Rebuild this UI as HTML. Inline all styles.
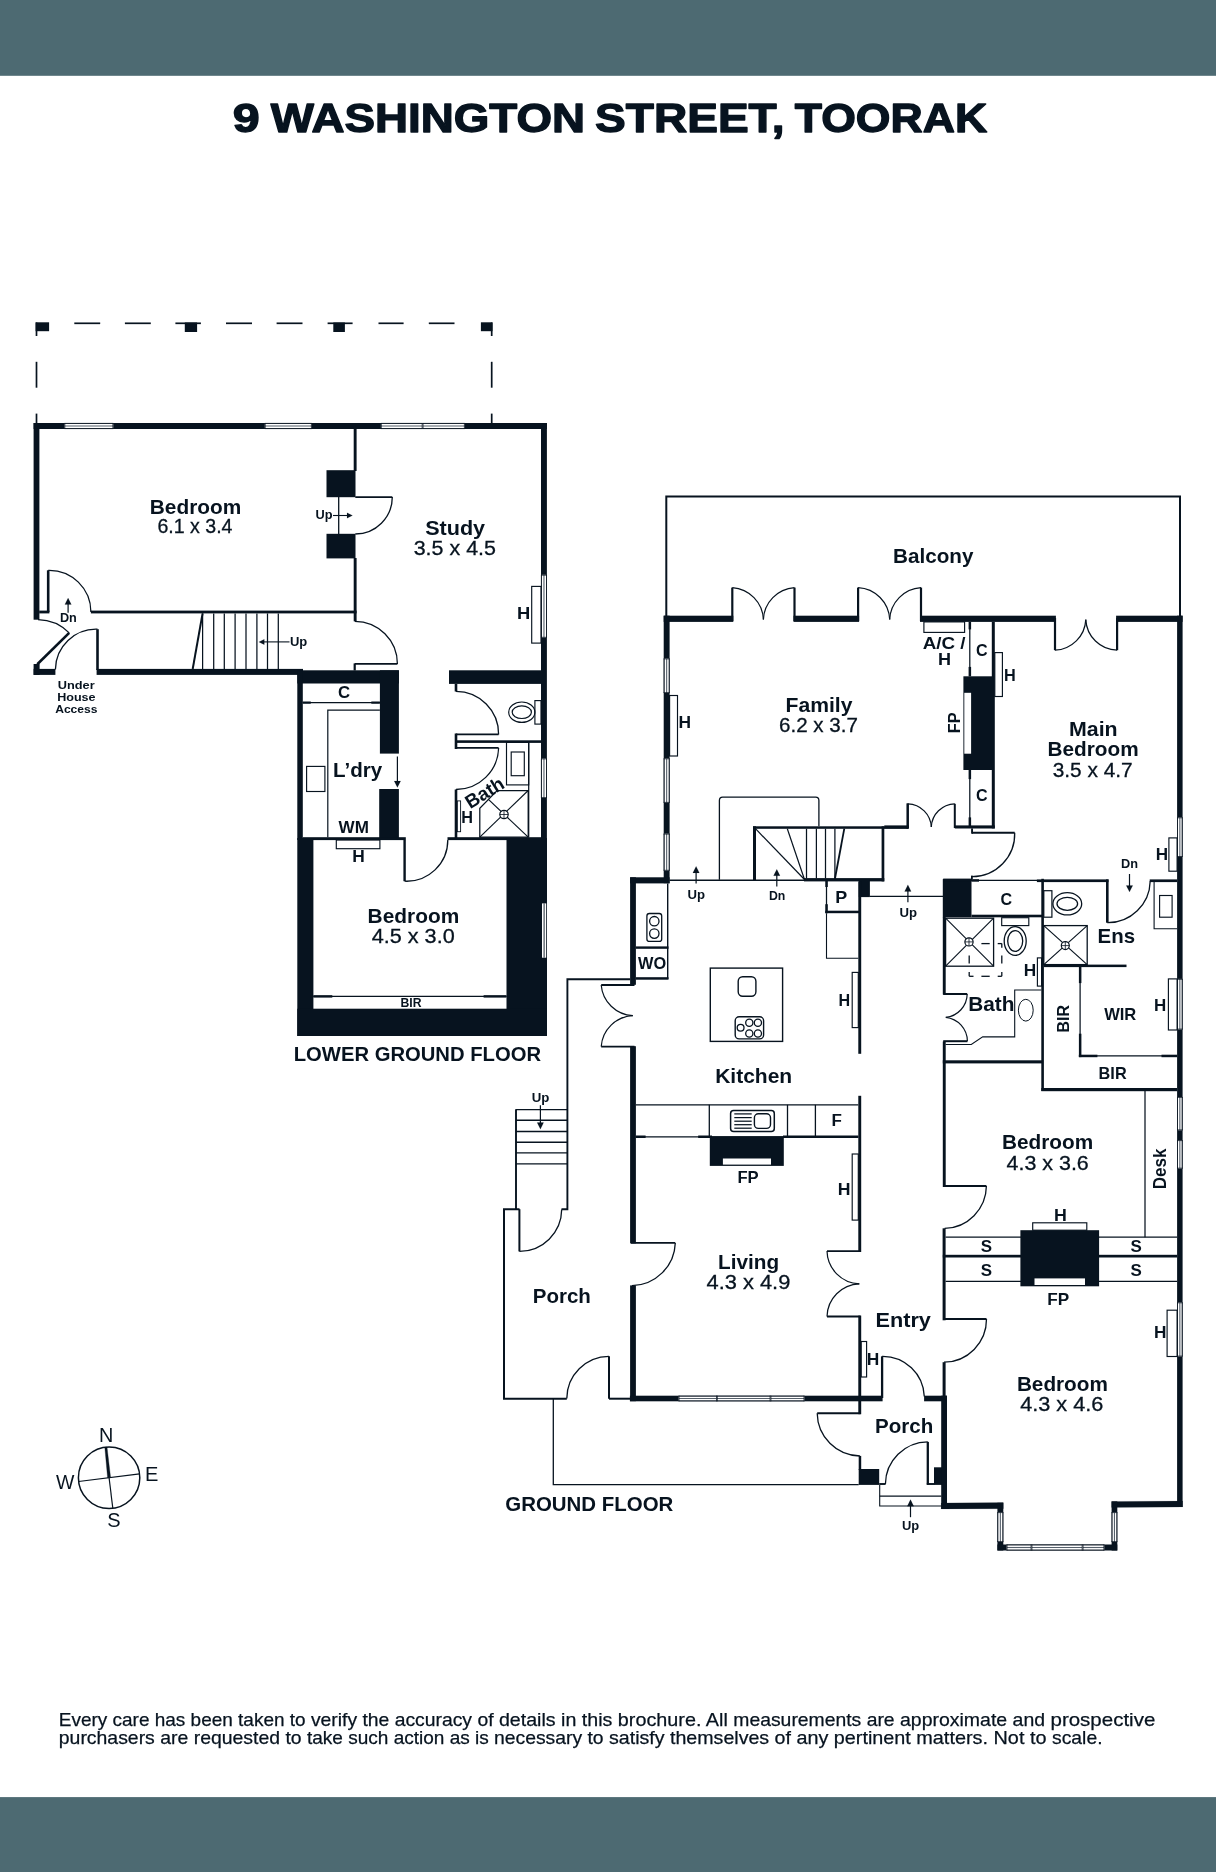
<!DOCTYPE html>
<html><head><meta charset="utf-8"><title>9 Washington Street, Toorak</title>
<style>
html,body{margin:0;padding:0;background:#fff;}
body{width:1216px;height:1872px;overflow:hidden;font-family:"Liberation Sans",sans-serif;}
svg{display:block;will-change:transform;}
svg text{font-family:"Liberation Sans",sans-serif;fill:#07131f;}
</style></head><body>
<svg width="1216" height="1872" viewBox="0 0 1216 1872">
<rect x="0" y="0" width="1216" height="75.8" fill="#4d6a72" />
<rect x="0" y="1797.1" width="1216" height="74.9" fill="#4d6a72" />
<text x="232.85" y="131.95" font-size="41.16" font-weight="bold" textLength="26.99" lengthAdjust="spacingAndGlyphs" stroke="#07131f" stroke-width="1.3" stroke-linejoin="round">9</text>
<text x="270.78" y="131.95" font-size="41.16" font-weight="bold" textLength="314.25" lengthAdjust="spacingAndGlyphs" stroke="#07131f" stroke-width="1.3" stroke-linejoin="round">WASHINGTON</text>
<text x="595.07" y="131.95" font-size="41.16" font-weight="bold" textLength="189.37" lengthAdjust="spacingAndGlyphs" stroke="#07131f" stroke-width="1.3" stroke-linejoin="round">STREET,</text>
<text x="794.78" y="131.95" font-size="41.16" font-weight="bold" textLength="192.35" lengthAdjust="spacingAndGlyphs" stroke="#07131f" stroke-width="1.3" stroke-linejoin="round">TOORAK</text>
<text xml:space="preserve" x="58.8" y="1725.8" font-size="18.84" textLength="252.1" lengthAdjust="spacingAndGlyphs" stroke="#07131f" stroke-width="0.25">Every care has been taken to </text>
<text xml:space="preserve" x="310.9" y="1725.8" font-size="18.84" textLength="188" lengthAdjust="spacingAndGlyphs" stroke="#07131f" stroke-width="0.25">verify the accuracy of </text>
<text xml:space="preserve" x="498.9" y="1725.8" font-size="18.84" textLength="118.9" lengthAdjust="spacingAndGlyphs" stroke="#07131f" stroke-width="0.25">details in this </text>
<text xml:space="preserve" x="617.8" y="1725.8" font-size="18.84" textLength="115.5" lengthAdjust="spacingAndGlyphs" stroke="#07131f" stroke-width="0.25">brochure. All </text>
<text xml:space="preserve" x="733.3" y="1725.8" font-size="18.84" textLength="166.7" lengthAdjust="spacingAndGlyphs" stroke="#07131f" stroke-width="0.25">measurements are </text>
<text xml:space="preserve" x="900" y="1725.8" font-size="18.84" textLength="150.5" lengthAdjust="spacingAndGlyphs" stroke="#07131f" stroke-width="0.25">approximate and </text>
<text xml:space="preserve" x="1050.5" y="1725.8" font-size="18.84" textLength="104.8" lengthAdjust="spacingAndGlyphs" stroke="#07131f" stroke-width="0.25">prospective</text>
<text xml:space="preserve" x="58.8" y="1744.3" font-size="18.84" textLength="248.2" lengthAdjust="spacingAndGlyphs" stroke="#07131f" stroke-width="0.25">purchasers are requested to </text>
<text xml:space="preserve" x="307" y="1744.3" font-size="18.84" textLength="187" lengthAdjust="spacingAndGlyphs" stroke="#07131f" stroke-width="0.25">take such action as is </text>
<text xml:space="preserve" x="494" y="1744.3" font-size="18.84" textLength="115" lengthAdjust="spacingAndGlyphs" stroke="#07131f" stroke-width="0.25">necessary to </text>
<text xml:space="preserve" x="609" y="1744.3" font-size="18.84" textLength="187.4" lengthAdjust="spacingAndGlyphs" stroke="#07131f" stroke-width="0.25">satisfy themselves of </text>
<text xml:space="preserve" x="796.4" y="1744.3" font-size="18.84" textLength="119.9" lengthAdjust="spacingAndGlyphs" stroke="#07131f" stroke-width="0.25">any pertinent </text>
<text xml:space="preserve" x="916.3" y="1744.3" font-size="18.84" textLength="135.7" lengthAdjust="spacingAndGlyphs" stroke="#07131f" stroke-width="0.25">matters. Not to </text>
<text xml:space="preserve" x="1052" y="1744.3" font-size="18.84" textLength="50.5" lengthAdjust="spacingAndGlyphs" stroke="#07131f" stroke-width="0.25">scale.</text>
<circle cx="109.1" cy="1477.7" r="30.7" fill="none" stroke="#07131f" stroke-width="1.5"/>
<path d="M107.6 1477.9 L110.6 1477.5 L107 1447 L104.8 1447.3 Z" fill="#07131f" stroke="#07131f" stroke-width="0.3" stroke-linejoin="miter"/>
<line x1="109.1" y1="1477.7" x2="112.8" y2="1508.2" stroke="#07131f" stroke-width="1.2" stroke-linecap="butt"/>
<line x1="78.6" y1="1481.5" x2="139.6" y2="1473.9" stroke="#07131f" stroke-width="1.2" stroke-linecap="butt"/>
<text x="99.04" y="1442.2" font-size="21.01" font-weight="normal" textLength="14.32" lengthAdjust="spacingAndGlyphs" >N</text>
<text x="56.09" y="1489.4" font-size="21.01" font-weight="normal" textLength="18.42" lengthAdjust="spacingAndGlyphs" >W</text>
<text x="145.12" y="1481.1" font-size="21.01" font-weight="normal" textLength="13.36" lengthAdjust="spacingAndGlyphs" >E</text>
<text x="107.17" y="1526.6" font-size="20.58" font-weight="normal" textLength="13.36" lengthAdjust="spacingAndGlyphs" >S</text>
<line x1="74.3" y1="323.3" x2="100.2" y2="323.3" stroke="#07131f" stroke-width="1.7" stroke-linecap="butt"/>
<line x1="124.9" y1="323.3" x2="150.8" y2="323.3" stroke="#07131f" stroke-width="1.7" stroke-linecap="butt"/>
<line x1="175.4" y1="323.3" x2="200.9" y2="323.3" stroke="#07131f" stroke-width="1.7" stroke-linecap="butt"/>
<line x1="226" y1="323.3" x2="252" y2="323.3" stroke="#07131f" stroke-width="1.7" stroke-linecap="butt"/>
<line x1="276.6" y1="323.3" x2="302.5" y2="323.3" stroke="#07131f" stroke-width="1.7" stroke-linecap="butt"/>
<line x1="327.6" y1="323.3" x2="352.6" y2="323.3" stroke="#07131f" stroke-width="1.7" stroke-linecap="butt"/>
<line x1="378.5" y1="323.3" x2="403.6" y2="323.3" stroke="#07131f" stroke-width="1.7" stroke-linecap="butt"/>
<line x1="428.8" y1="323.3" x2="454.5" y2="323.3" stroke="#07131f" stroke-width="1.7" stroke-linecap="butt"/>
<line x1="36.5" y1="322.5" x2="36.5" y2="336" stroke="#07131f" stroke-width="1.7" stroke-linecap="butt"/>
<line x1="36.5" y1="361.8" x2="36.5" y2="387.7" stroke="#07131f" stroke-width="1.7" stroke-linecap="butt"/>
<line x1="36.5" y1="413.6" x2="36.5" y2="423.5" stroke="#07131f" stroke-width="1.7" stroke-linecap="butt"/>
<line x1="491.7" y1="322.5" x2="491.7" y2="336" stroke="#07131f" stroke-width="1.7" stroke-linecap="butt"/>
<line x1="491.7" y1="361.8" x2="491.7" y2="387.7" stroke="#07131f" stroke-width="1.7" stroke-linecap="butt"/>
<line x1="491.7" y1="413.6" x2="491.7" y2="423.5" stroke="#07131f" stroke-width="1.7" stroke-linecap="butt"/>
<rect x="35.6" y="322.3" width="13.5" height="8.9" fill="#07131f" />
<rect x="184.8" y="322.5" width="12.3" height="9.5" fill="#07131f" />
<rect x="333.3" y="322.5" width="11.6" height="9.5" fill="#07131f" />
<rect x="480.9" y="322.3" width="11.6" height="8.9" fill="#07131f" />
<rect x="33.6" y="423" width="513.3" height="6" fill="#07131f" />
<rect x="33.6" y="423" width="5.8" height="196.7" fill="#07131f" />
<rect x="541" y="423" width="5.9" height="417" fill="#07131f" />
<rect x="64.4" y="423.7" width="48.9" height="4.6" fill="#fff" />
<line x1="64.4" y1="426" x2="113.3" y2="426" stroke="#56606b" stroke-width="1.1" stroke-linecap="butt"/>
<line x1="64.4" y1="423.4" x2="113.3" y2="423.4" stroke="#07131f" stroke-width="0.8" stroke-linecap="butt"/>
<line x1="64.4" y1="428.6" x2="113.3" y2="428.6" stroke="#07131f" stroke-width="0.8" stroke-linecap="butt"/>
<line x1="64.8" y1="423" x2="64.8" y2="429" stroke="#07131f" stroke-width="0.8" stroke-linecap="butt"/>
<line x1="112.9" y1="423" x2="112.9" y2="429" stroke="#07131f" stroke-width="0.8" stroke-linecap="butt"/>
<rect x="264.8" y="423.7" width="47" height="4.6" fill="#fff" />
<line x1="264.8" y1="426" x2="311.8" y2="426" stroke="#56606b" stroke-width="1.1" stroke-linecap="butt"/>
<line x1="264.8" y1="423.4" x2="311.8" y2="423.4" stroke="#07131f" stroke-width="0.8" stroke-linecap="butt"/>
<line x1="264.8" y1="428.6" x2="311.8" y2="428.6" stroke="#07131f" stroke-width="0.8" stroke-linecap="butt"/>
<line x1="265.2" y1="423" x2="265.2" y2="429" stroke="#07131f" stroke-width="0.8" stroke-linecap="butt"/>
<line x1="311.4" y1="423" x2="311.4" y2="429" stroke="#07131f" stroke-width="0.8" stroke-linecap="butt"/>
<rect x="380.9" y="423.7" width="41.7" height="4.6" fill="#fff" />
<line x1="380.9" y1="426" x2="422.6" y2="426" stroke="#56606b" stroke-width="1.1" stroke-linecap="butt"/>
<line x1="380.9" y1="423.4" x2="422.6" y2="423.4" stroke="#07131f" stroke-width="0.8" stroke-linecap="butt"/>
<line x1="380.9" y1="428.6" x2="422.6" y2="428.6" stroke="#07131f" stroke-width="0.8" stroke-linecap="butt"/>
<line x1="381.3" y1="423" x2="381.3" y2="429" stroke="#07131f" stroke-width="0.8" stroke-linecap="butt"/>
<line x1="422.2" y1="423" x2="422.2" y2="429" stroke="#07131f" stroke-width="0.8" stroke-linecap="butt"/>
<rect x="422.6" y="423.7" width="42.2" height="4.6" fill="#fff" />
<line x1="422.6" y1="426" x2="464.8" y2="426" stroke="#56606b" stroke-width="1.1" stroke-linecap="butt"/>
<line x1="422.6" y1="423.4" x2="464.8" y2="423.4" stroke="#07131f" stroke-width="0.8" stroke-linecap="butt"/>
<line x1="422.6" y1="428.6" x2="464.8" y2="428.6" stroke="#07131f" stroke-width="0.8" stroke-linecap="butt"/>
<line x1="423" y1="423" x2="423" y2="429" stroke="#07131f" stroke-width="0.8" stroke-linecap="butt"/>
<line x1="464.4" y1="423" x2="464.4" y2="429" stroke="#07131f" stroke-width="0.8" stroke-linecap="butt"/>
<rect x="541.7" y="574.8" width="4.5" height="62.9" fill="#fff" />
<line x1="543.95" y1="574.8" x2="543.95" y2="637.7" stroke="#56606b" stroke-width="1.1" stroke-linecap="butt"/>
<line x1="541.4" y1="574.8" x2="541.4" y2="637.7" stroke="#07131f" stroke-width="0.8" stroke-linecap="butt"/>
<line x1="546.5" y1="574.8" x2="546.5" y2="637.7" stroke="#07131f" stroke-width="0.8" stroke-linecap="butt"/>
<line x1="541" y1="575.2" x2="546.9" y2="575.2" stroke="#07131f" stroke-width="0.8" stroke-linecap="butt"/>
<line x1="541" y1="637.3" x2="546.9" y2="637.3" stroke="#07131f" stroke-width="0.8" stroke-linecap="butt"/>
<rect x="541.7" y="758.5" width="4.5" height="39.5" fill="#fff" />
<line x1="543.95" y1="758.5" x2="543.95" y2="798" stroke="#56606b" stroke-width="1.1" stroke-linecap="butt"/>
<line x1="541.4" y1="758.5" x2="541.4" y2="798" stroke="#07131f" stroke-width="0.8" stroke-linecap="butt"/>
<line x1="546.5" y1="758.5" x2="546.5" y2="798" stroke="#07131f" stroke-width="0.8" stroke-linecap="butt"/>
<line x1="541" y1="758.9" x2="546.9" y2="758.9" stroke="#07131f" stroke-width="0.8" stroke-linecap="butt"/>
<line x1="541" y1="797.6" x2="546.9" y2="797.6" stroke="#07131f" stroke-width="0.8" stroke-linecap="butt"/>
<rect x="39.2" y="610.6" width="10.2" height="2.8" fill="#07131f" />
<rect x="90.9" y="610.6" width="265.7" height="2.8" fill="#07131f" />
<rect x="353.7" y="429" width="2.9" height="42" fill="#07131f" />
<rect x="353.7" y="558" width="2.9" height="63.3" fill="#07131f" />
<rect x="326.5" y="470.2" width="29" height="27" fill="#07131f" />
<rect x="326.5" y="533.8" width="29" height="24.6" fill="#07131f" />
<line x1="338.7" y1="497" x2="338.7" y2="534" stroke="#07131f" stroke-width="1.3" stroke-linecap="butt"/>
<line x1="355.3" y1="497.1" x2="392.3" y2="497.1" stroke="#07131f" stroke-width="1.6" stroke-linecap="butt"/>
<path d="M392.3 497.1 A37 37 0 0 1 355.3 534" fill="none" stroke="#07131f" stroke-width="1.3" stroke-linejoin="miter"/>
<rect x="353.6" y="663.4" width="2.2" height="7.1" fill="#07131f" />
<line x1="354.8" y1="663.9" x2="397.4" y2="663.9" stroke="#07131f" stroke-width="1.7" stroke-linecap="butt"/>
<path d="M397.4 663.9 A42.6 42.6 0 0 0 354.8 621.3" fill="none" stroke="#07131f" stroke-width="1.3" stroke-linejoin="miter"/>
<line x1="48.2" y1="612" x2="48.2" y2="570.3" stroke="#07131f" stroke-width="2.6" stroke-linecap="butt"/>
<path d="M48.2 570.3 A41.7 41.7 0 0 1 90.9 612" fill="none" stroke="#07131f" stroke-width="1.3" stroke-linejoin="miter"/>
<rect x="33.6" y="664" width="6" height="10.9" fill="#07131f" />
<rect x="33.6" y="668.9" width="21.8" height="6" fill="#07131f" />
<rect x="96.6" y="668.9" width="206.4" height="6" fill="#07131f" />
<line x1="37.3" y1="664.3" x2="69.2" y2="632.9" stroke="#07131f" stroke-width="2.6" stroke-linecap="butt"/>
<path d="M69.2 632.9 A44.76 44.76 0 0 0 38 619.6" fill="none" stroke="#07131f" stroke-width="1.3" stroke-linejoin="miter"/>
<line x1="97.5" y1="670" x2="97.5" y2="629.2" stroke="#07131f" stroke-width="2.6" stroke-linecap="butt"/>
<path d="M97.5 629.2 A40.8 40.8 0 0 0 55.4 669.5" fill="none" stroke="#07131f" stroke-width="1.3" stroke-linejoin="miter"/>
<line x1="202.6" y1="613.4" x2="192.7" y2="669" stroke="#07131f" stroke-width="2.0" stroke-linecap="butt"/>
<line x1="202.6" y1="613.4" x2="202.6" y2="669" stroke="#07131f" stroke-width="1.25" stroke-linecap="butt"/>
<line x1="213.7" y1="613.4" x2="213.7" y2="669" stroke="#07131f" stroke-width="1.25" stroke-linecap="butt"/>
<line x1="224.3" y1="613.4" x2="224.3" y2="669" stroke="#07131f" stroke-width="1.25" stroke-linecap="butt"/>
<line x1="235.1" y1="613.4" x2="235.1" y2="669" stroke="#07131f" stroke-width="1.25" stroke-linecap="butt"/>
<line x1="246" y1="613.4" x2="246" y2="669" stroke="#07131f" stroke-width="1.25" stroke-linecap="butt"/>
<line x1="256.9" y1="613.4" x2="256.9" y2="669" stroke="#07131f" stroke-width="1.25" stroke-linecap="butt"/>
<line x1="267.5" y1="613.4" x2="267.5" y2="669" stroke="#07131f" stroke-width="1.25" stroke-linecap="butt"/>
<line x1="278.3" y1="613.4" x2="278.3" y2="669" stroke="#07131f" stroke-width="1.25" stroke-linecap="butt"/>
<line x1="289.5" y1="641.9" x2="262.1" y2="641.9" stroke="#07131f" stroke-width="1.1" stroke-linecap="butt"/>
<path d="M258.8 641.9 L264.3 639.15 L264.3 644.65 Z" fill="#07131f" stroke="#07131f" stroke-width="0.1" stroke-linejoin="miter"/>
<text x="289.93" y="646.4" font-size="12.75" font-weight="bold" textLength="17.33" lengthAdjust="spacingAndGlyphs" >Up</text>
<line x1="68.1" y1="612.8" x2="68.1" y2="601.96" stroke="#07131f" stroke-width="1.2" stroke-linecap="butt"/>
<path d="M68.1 598 L71.4 604.6 L64.8 604.6 Z" fill="#07131f" stroke="#07131f" stroke-width="0.1" stroke-linejoin="miter"/>
<text x="59.95" y="622.1" font-size="12.46" font-weight="bold" textLength="16.9" lengthAdjust="spacingAndGlyphs" >Dn</text>
<text x="57.8" y="688.7" font-size="11.59" font-weight="bold" textLength="36.89" lengthAdjust="spacingAndGlyphs" >Under</text>
<text x="57.2" y="700.6" font-size="11.59" font-weight="bold" textLength="38.39" lengthAdjust="spacingAndGlyphs" >House</text>
<text x="55.17" y="713" font-size="11.59" font-weight="bold" textLength="42.36" lengthAdjust="spacingAndGlyphs" >Access</text>
<line x1="333" y1="515.5" x2="349.2" y2="515.5" stroke="#07131f" stroke-width="1.1" stroke-linecap="butt"/>
<path d="M352.5 515.5 L347 518.25 L347 512.75 Z" fill="#07131f" stroke="#07131f" stroke-width="0.1" stroke-linejoin="miter"/>
<text x="315.53" y="519.4" font-size="12.75" font-weight="bold" textLength="17.03" lengthAdjust="spacingAndGlyphs" >Up</text>
<rect x="531.7" y="586.4" width="9.3" height="56.7" rx="0" fill="none" stroke="#07131f" stroke-width="1.15"/>
<text x="516.97" y="618.7" font-size="16.09" font-weight="bold" textLength="13.25" lengthAdjust="spacingAndGlyphs" >H</text>
<text x="149.82" y="513.6" font-size="19.71" font-weight="bold" textLength="91.37" lengthAdjust="spacingAndGlyphs" >Bedroom</text>
<text x="157.39" y="533.3" font-size="20.29" font-weight="normal" textLength="75.12" lengthAdjust="spacingAndGlyphs"  stroke="#07131f" stroke-width="0.3">6.1 x 3.4</text>
<text x="425.2" y="534.8" font-size="20" font-weight="bold" textLength="59.9" lengthAdjust="spacingAndGlyphs" >Study</text>
<text x="413.69" y="555.3" font-size="20.29" font-weight="normal" textLength="82.32" lengthAdjust="spacingAndGlyphs"  stroke="#07131f" stroke-width="0.3">3.5 x 4.5</text>
<rect x="297.3" y="670.3" width="101.6" height="13.2" fill="#07131f" />
<rect x="297.3" y="670.3" width="5.5" height="169.7" fill="#07131f" />
<rect x="379.9" y="670.3" width="19" height="83.3" fill="#07131f" />
<rect x="379.2" y="789" width="19.7" height="49" fill="#07131f" />
<rect x="302.7" y="837.2" width="103.1" height="2.9" fill="#07131f" />
<line x1="302.7" y1="702.6" x2="379.9" y2="702.6" stroke="#07131f" stroke-width="1.25" stroke-linecap="butt"/>
<rect x="302.7" y="701.5" width="8.1" height="2.2" fill="#07131f" />
<rect x="371.3" y="701.5" width="8.6" height="2.2" fill="#07131f" />
<text x="338.1" y="698" font-size="16.09" font-weight="bold" textLength="12.11" lengthAdjust="spacingAndGlyphs" >C</text>
<path d="M327.8 837.2 L327.8 710.2 L379.9 710.2" fill="none" stroke="#07131f" stroke-width="1.2" stroke-linejoin="miter"/>
<rect x="306.6" y="766.4" width="18.3" height="25.1" rx="0" fill="none" stroke="#07131f" stroke-width="1.15"/>
<text x="333.03" y="776.7" font-size="19.42" font-weight="bold" textLength="49.14" lengthAdjust="spacingAndGlyphs" >L’dry</text>
<line x1="397.4" y1="756.5" x2="397.4" y2="783.54" stroke="#07131f" stroke-width="1.2" stroke-linecap="butt"/>
<path d="M397.4 787.5 L394.1 780.9 L400.7 780.9 Z" fill="#07131f" stroke="#07131f" stroke-width="0.1" stroke-linejoin="miter"/>
<text x="338.58" y="832.5" font-size="16.09" font-weight="bold" textLength="30.34" lengthAdjust="spacingAndGlyphs" >WM</text>
<rect x="336.3" y="840" width="43.6" height="8.7" rx="0" fill="none" stroke="#07131f" stroke-width="1.15"/>
<text x="352.37" y="862.1" font-size="16.09" font-weight="bold" textLength="12.55" lengthAdjust="spacingAndGlyphs" >H</text>
<rect x="449" y="670.3" width="92" height="13.6" fill="#07131f" />
<rect x="454.7" y="683.9" width="2.6" height="7.6" fill="#07131f" />
<line x1="455.9" y1="734.4" x2="498.6" y2="734.4" stroke="#07131f" stroke-width="1.7" stroke-linecap="butt"/>
<path d="M498.6 734.4 A42.7 42.7 0 0 0 455.9 691.3" fill="none" stroke="#07131f" stroke-width="1.3" stroke-linejoin="miter"/>
<rect x="454.7" y="733.5" width="2.6" height="15.5" fill="#07131f" />
<rect x="455.2" y="740.3" width="85.8" height="2.6" fill="#07131f" />
<ellipse cx="521.8" cy="712.2" rx="13.1" ry="10.2" fill="none" stroke="#07131f" stroke-width="1.2"/>
<ellipse cx="521.8" cy="712.2" rx="9.6" ry="6.3" fill="none" stroke="#07131f" stroke-width="1.2"/>
<rect x="534.9" y="700.6" width="6.1" height="23.5" rx="0" fill="none" stroke="#07131f" stroke-width="1.15"/>
<line x1="455.9" y1="747.9" x2="498.6" y2="747.9" stroke="#07131f" stroke-width="1.7" stroke-linecap="butt"/>
<path d="M498.6 747.9 A42.7 42.7 0 0 1 455.9 789.5" fill="none" stroke="#07131f" stroke-width="1.3" stroke-linejoin="miter"/>
<rect x="454.7" y="789.5" width="2.6" height="48.5" fill="#07131f" />
<rect x="457.3" y="800.9" width="3.3" height="30.8" rx="0" fill="none" stroke="#07131f" stroke-width="0.9"/>
<text x="461.17" y="822.6" font-size="16.09" font-weight="bold" textLength="11.75" lengthAdjust="spacingAndGlyphs" >H</text>
<rect x="447.5" y="837.2" width="93.5" height="2.9" fill="#07131f" />
<rect x="506.5" y="742.4" width="22.2" height="42.5" rx="0" fill="none" stroke="#07131f" stroke-width="1.15"/>
<rect x="511.2" y="752" width="13.1" height="23.7" rx="0" fill="none" stroke="#07131f" stroke-width="1.15"/>
<line x1="528.7" y1="742.4" x2="528.7" y2="837.2" stroke="#07131f" stroke-width="1.25" stroke-linecap="butt"/>
<path d="M497.1 790.5 L528.2 790.5 L528.2 837.2 L479.8 837.2 L479.8 808.3 Z" fill="none" stroke="#07131f" stroke-width="1.25" stroke-linejoin="miter"/>
<line x1="488.4" y1="799.4" x2="528.2" y2="837.2" stroke="#07131f" stroke-width="1.15" stroke-linecap="butt"/>
<line x1="479.8" y1="837.2" x2="528.2" y2="790.5" stroke="#07131f" stroke-width="1.15" stroke-linecap="butt"/>
<circle cx="504" cy="814.5" r="4.2" fill="#fff" stroke="#07131f" stroke-width="1.2"/>
<line x1="499.8" y1="814.5" x2="508.2" y2="814.5" stroke="#07131f" stroke-width="0.8" stroke-linecap="butt"/>
<line x1="504" y1="810.3" x2="504" y2="818.7" stroke="#07131f" stroke-width="0.8" stroke-linecap="butt"/>
<text x="470.15" y="808.6" font-size="19.13" font-weight="bold" textLength="41.8" lengthAdjust="spacingAndGlyphs" transform="rotate(-32 471.3 808.6)" >Bath</text>
<rect x="297.3" y="838" width="16.1" height="198" fill="#07131f" />
<rect x="506.5" y="838" width="40.5" height="198" fill="#07131f" />
<rect x="297.3" y="1008.7" width="249.7" height="27.3" fill="#07131f" />
<rect x="542" y="903.4" width="4.2" height="54.3" fill="#fff" />
<line x1="544.1" y1="903.4" x2="544.1" y2="957.7" stroke="#07131f" stroke-width="0.9" stroke-linecap="butt"/>
<line x1="404.6" y1="840" x2="404.6" y2="881.2" stroke="#07131f" stroke-width="2.4" stroke-linecap="butt"/>
<path d="M404.6 881.2 A41.2 41.2 0 0 0 447.8 840" fill="none" stroke="#07131f" stroke-width="1.3" stroke-linejoin="miter"/>
<line x1="313.3" y1="996.4" x2="506.5" y2="996.4" stroke="#07131f" stroke-width="1.25" stroke-linecap="butt"/>
<rect x="313.3" y="995.2" width="19" height="2.4" fill="#07131f" />
<rect x="483.6" y="995.2" width="22.9" height="2.4" fill="#07131f" />
<text x="400.48" y="1006.8" font-size="12.46" font-weight="bold" textLength="21.05" lengthAdjust="spacingAndGlyphs" >BIR</text>
<text x="367.63" y="923.1" font-size="19.42" font-weight="bold" textLength="91.63" lengthAdjust="spacingAndGlyphs" >Bedroom</text>
<text x="371.69" y="943.3" font-size="20.29" font-weight="normal" textLength="83.02" lengthAdjust="spacingAndGlyphs"  stroke="#07131f" stroke-width="0.3">4.5 x 3.0</text>
<text x="293.7" y="1060.8" font-size="20" font-weight="bold" textLength="247.4" lengthAdjust="spacingAndGlyphs" >LOWER GROUND FLOOR</text>
<path d="M666.3 616 L666.3 496.5 L1180 496.5 L1180 616" fill="none" stroke="#07131f" stroke-width="2.0" stroke-linejoin="miter"/>
<text x="893.12" y="563.4" font-size="19.71" font-weight="bold" textLength="80.37" lengthAdjust="spacingAndGlyphs" >Balcony</text>
<rect x="663.7" y="615.7" width="69.6" height="6.2" fill="#07131f" />
<rect x="793.5" y="615.7" width="65.6" height="6.2" fill="#07131f" />
<rect x="920" y="615.7" width="135.9" height="6.2" fill="#07131f" />
<rect x="1116.1" y="615.7" width="66.5" height="6.2" fill="#07131f" />
<line x1="732.3" y1="621" x2="732.3" y2="587.6" stroke="#07131f" stroke-width="2.2" stroke-linecap="butt"/>
<path d="M732.3 587.6 A33.4 33.4 0 0 1 763.4 619.6" fill="none" stroke="#07131f" stroke-width="1.2" stroke-linejoin="miter"/>
<line x1="794.5" y1="621" x2="794.5" y2="587.6" stroke="#07131f" stroke-width="2.2" stroke-linecap="butt"/>
<path d="M794.5 587.6 A33.4 33.4 0 0 0 763.4 619.6" fill="none" stroke="#07131f" stroke-width="1.2" stroke-linejoin="miter"/>
<line x1="858.1" y1="621" x2="858.1" y2="587.6" stroke="#07131f" stroke-width="2.2" stroke-linecap="butt"/>
<path d="M858.1 587.6 A33.4 33.4 0 0 1 889.7 619.6" fill="none" stroke="#07131f" stroke-width="1.2" stroke-linejoin="miter"/>
<line x1="921" y1="621" x2="921" y2="587.6" stroke="#07131f" stroke-width="2.2" stroke-linecap="butt"/>
<path d="M921 587.6 A33.4 33.4 0 0 0 889.7 619.6" fill="none" stroke="#07131f" stroke-width="1.2" stroke-linejoin="miter"/>
<line x1="1055" y1="618" x2="1055" y2="650.2" stroke="#07131f" stroke-width="2.2" stroke-linecap="butt"/>
<path d="M1055 650.2 A32.2 32.2 0 0 0 1085.8 619.6" fill="none" stroke="#07131f" stroke-width="1.2" stroke-linejoin="miter"/>
<line x1="1117.1" y1="618" x2="1117.1" y2="650.2" stroke="#07131f" stroke-width="2.2" stroke-linecap="butt"/>
<path d="M1117.1 650.2 A32.2 32.2 0 0 1 1085.8 619.6" fill="none" stroke="#07131f" stroke-width="1.2" stroke-linejoin="miter"/>
<rect x="663.7" y="615.7" width="5.9" height="267.5" fill="#07131f" />
<rect x="664.4" y="658.5" width="4.5" height="34.5" fill="#fff" />
<line x1="666.65" y1="658.5" x2="666.65" y2="693" stroke="#56606b" stroke-width="1.1" stroke-linecap="butt"/>
<line x1="664.1" y1="658.5" x2="664.1" y2="693" stroke="#07131f" stroke-width="0.8" stroke-linecap="butt"/>
<line x1="669.2" y1="658.5" x2="669.2" y2="693" stroke="#07131f" stroke-width="0.8" stroke-linecap="butt"/>
<line x1="663.7" y1="658.9" x2="669.6" y2="658.9" stroke="#07131f" stroke-width="0.8" stroke-linecap="butt"/>
<line x1="663.7" y1="692.6" x2="669.6" y2="692.6" stroke="#07131f" stroke-width="0.8" stroke-linecap="butt"/>
<rect x="664.4" y="758.4" width="4.5" height="44.4" fill="#fff" />
<line x1="666.65" y1="758.4" x2="666.65" y2="802.8" stroke="#56606b" stroke-width="1.1" stroke-linecap="butt"/>
<line x1="664.1" y1="758.4" x2="664.1" y2="802.8" stroke="#07131f" stroke-width="0.8" stroke-linecap="butt"/>
<line x1="669.2" y1="758.4" x2="669.2" y2="802.8" stroke="#07131f" stroke-width="0.8" stroke-linecap="butt"/>
<line x1="663.7" y1="758.8" x2="669.6" y2="758.8" stroke="#07131f" stroke-width="0.8" stroke-linecap="butt"/>
<line x1="663.7" y1="802.4" x2="669.6" y2="802.4" stroke="#07131f" stroke-width="0.8" stroke-linecap="butt"/>
<rect x="664.4" y="833.7" width="4.5" height="37" fill="#fff" />
<line x1="666.65" y1="833.7" x2="666.65" y2="870.7" stroke="#56606b" stroke-width="1.1" stroke-linecap="butt"/>
<line x1="664.1" y1="833.7" x2="664.1" y2="870.7" stroke="#07131f" stroke-width="0.8" stroke-linecap="butt"/>
<line x1="669.2" y1="833.7" x2="669.2" y2="870.7" stroke="#07131f" stroke-width="0.8" stroke-linecap="butt"/>
<line x1="663.7" y1="834.1" x2="669.6" y2="834.1" stroke="#07131f" stroke-width="0.8" stroke-linecap="butt"/>
<line x1="663.7" y1="870.3" x2="669.6" y2="870.3" stroke="#07131f" stroke-width="0.8" stroke-linecap="butt"/>
<rect x="669.6" y="695.5" width="7.9" height="60.5" rx="0" fill="none" stroke="#07131f" stroke-width="1.15"/>
<text x="678.57" y="728.1" font-size="16.09" font-weight="bold" textLength="12.55" lengthAdjust="spacingAndGlyphs" >H</text>
<rect x="1177.1" y="615.7" width="5.5" height="891.3" fill="#07131f" />
<rect x="1177.8" y="817.4" width="4.1" height="39.5" fill="#fff" />
<line x1="1179.85" y1="817.4" x2="1179.85" y2="856.9" stroke="#56606b" stroke-width="1.1" stroke-linecap="butt"/>
<line x1="1177.5" y1="817.4" x2="1177.5" y2="856.9" stroke="#07131f" stroke-width="0.8" stroke-linecap="butt"/>
<line x1="1182.2" y1="817.4" x2="1182.2" y2="856.9" stroke="#07131f" stroke-width="0.8" stroke-linecap="butt"/>
<line x1="1177.1" y1="817.8" x2="1182.6" y2="817.8" stroke="#07131f" stroke-width="0.8" stroke-linecap="butt"/>
<line x1="1177.1" y1="856.5" x2="1182.6" y2="856.5" stroke="#07131f" stroke-width="0.8" stroke-linecap="butt"/>
<rect x="1177.8" y="978.9" width="4.1" height="50.6" fill="#fff" />
<line x1="1179.85" y1="978.9" x2="1179.85" y2="1029.5" stroke="#56606b" stroke-width="1.1" stroke-linecap="butt"/>
<line x1="1177.5" y1="978.9" x2="1177.5" y2="1029.5" stroke="#07131f" stroke-width="0.8" stroke-linecap="butt"/>
<line x1="1182.2" y1="978.9" x2="1182.2" y2="1029.5" stroke="#07131f" stroke-width="0.8" stroke-linecap="butt"/>
<line x1="1177.1" y1="979.3" x2="1182.6" y2="979.3" stroke="#07131f" stroke-width="0.8" stroke-linecap="butt"/>
<line x1="1177.1" y1="1029.1" x2="1182.6" y2="1029.1" stroke="#07131f" stroke-width="0.8" stroke-linecap="butt"/>
<rect x="1177.8" y="1097" width="4.1" height="33.3" fill="#fff" />
<line x1="1179.85" y1="1097" x2="1179.85" y2="1130.3" stroke="#56606b" stroke-width="1.1" stroke-linecap="butt"/>
<line x1="1177.5" y1="1097" x2="1177.5" y2="1130.3" stroke="#07131f" stroke-width="0.8" stroke-linecap="butt"/>
<line x1="1182.2" y1="1097" x2="1182.2" y2="1130.3" stroke="#07131f" stroke-width="0.8" stroke-linecap="butt"/>
<line x1="1177.1" y1="1097.4" x2="1182.6" y2="1097.4" stroke="#07131f" stroke-width="0.8" stroke-linecap="butt"/>
<line x1="1177.1" y1="1129.9" x2="1182.6" y2="1129.9" stroke="#07131f" stroke-width="0.8" stroke-linecap="butt"/>
<rect x="1177.8" y="1140.2" width="4.1" height="28.4" fill="#fff" />
<line x1="1179.85" y1="1140.2" x2="1179.85" y2="1168.6" stroke="#56606b" stroke-width="1.1" stroke-linecap="butt"/>
<line x1="1177.5" y1="1140.2" x2="1177.5" y2="1168.6" stroke="#07131f" stroke-width="0.8" stroke-linecap="butt"/>
<line x1="1182.2" y1="1140.2" x2="1182.2" y2="1168.6" stroke="#07131f" stroke-width="0.8" stroke-linecap="butt"/>
<line x1="1177.1" y1="1140.6" x2="1182.6" y2="1140.6" stroke="#07131f" stroke-width="0.8" stroke-linecap="butt"/>
<line x1="1177.1" y1="1168.2" x2="1182.6" y2="1168.2" stroke="#07131f" stroke-width="0.8" stroke-linecap="butt"/>
<rect x="1177.8" y="1302.4" width="4.1" height="54.1" fill="#fff" />
<line x1="1179.85" y1="1302.4" x2="1179.85" y2="1356.5" stroke="#56606b" stroke-width="1.1" stroke-linecap="butt"/>
<line x1="1177.5" y1="1302.4" x2="1177.5" y2="1356.5" stroke="#07131f" stroke-width="0.8" stroke-linecap="butt"/>
<line x1="1182.2" y1="1302.4" x2="1182.2" y2="1356.5" stroke="#07131f" stroke-width="0.8" stroke-linecap="butt"/>
<line x1="1177.1" y1="1302.8" x2="1182.6" y2="1302.8" stroke="#07131f" stroke-width="0.8" stroke-linecap="butt"/>
<line x1="1177.1" y1="1356.1" x2="1182.6" y2="1356.1" stroke="#07131f" stroke-width="0.8" stroke-linecap="butt"/>
<rect x="923.9" y="621.9" width="40.7" height="10.5" rx="0" fill="none" stroke="#07131f" stroke-width="1.15"/>
<text x="922.68" y="648.6" font-size="16.09" font-weight="bold" textLength="42.84" lengthAdjust="spacingAndGlyphs" >A/C /</text>
<text x="938.07" y="664.7" font-size="16.09" font-weight="bold" textLength="13.05" lengthAdjust="spacingAndGlyphs" >H</text>
<rect x="991.8" y="621.9" width="3" height="206.5" fill="#07131f" />
<line x1="969.8" y1="621.9" x2="969.8" y2="676.3" stroke="#07131f" stroke-width="1.25" stroke-linecap="butt"/>
<rect x="968.6" y="621.9" width="2.5" height="7.5" fill="#07131f" />
<rect x="968.6" y="666.9" width="2.5" height="9.4" fill="#07131f" />
<rect x="963.4" y="676.3" width="30.4" height="93.7" fill="#07131f" />
<rect x="964.3" y="692.8" width="6.8" height="60.9" fill="#fff" />
<line x1="969.8" y1="770" x2="969.8" y2="828" stroke="#07131f" stroke-width="1.25" stroke-linecap="butt"/>
<rect x="968.6" y="770" width="2.5" height="9.1" fill="#07131f" />
<rect x="968.6" y="817.4" width="2.5" height="10.6" fill="#07131f" />
<rect x="954.8" y="825.4" width="40" height="3.1" fill="#07131f" />
<text x="975.9" y="655.6" font-size="16.09" font-weight="bold" textLength="11.61" lengthAdjust="spacingAndGlyphs" >C</text>
<text x="975.9" y="801.1" font-size="16.09" font-weight="bold" textLength="11.61" lengthAdjust="spacingAndGlyphs" >C</text>
<text x="959.33" y="732.3" font-size="16.09" font-weight="bold" textLength="20.83" lengthAdjust="spacingAndGlyphs" transform="rotate(-90 960.3 732.3)" >FP</text>
<rect x="994.8" y="652.6" width="7.6" height="43.9" rx="0" fill="none" stroke="#07131f" stroke-width="1.15"/>
<text x="1003.97" y="680.9" font-size="16.09" font-weight="bold" textLength="11.75" lengthAdjust="spacingAndGlyphs" >H</text>
<text x="785.49" y="711.5" font-size="20.29" font-weight="bold" textLength="66.93" lengthAdjust="spacingAndGlyphs" >Family</text>
<text x="779.09" y="731.6" font-size="20.29" font-weight="normal" textLength="78.82" lengthAdjust="spacingAndGlyphs"  stroke="#07131f" stroke-width="0.3">6.2 x 3.7</text>
<text x="1068.99" y="736" font-size="20.29" font-weight="bold" textLength="48.63" lengthAdjust="spacingAndGlyphs" >Main</text>
<text x="1047.5" y="756.1" font-size="20" font-weight="bold" textLength="91.1" lengthAdjust="spacingAndGlyphs" >Bedroom</text>
<text x="1052.69" y="776.5" font-size="20.29" font-weight="normal" textLength="80.02" lengthAdjust="spacingAndGlyphs"  stroke="#07131f" stroke-width="0.3">3.5 x 4.7</text>
<rect x="884.3" y="825.4" width="24.6" height="3.1" fill="#07131f" />
<line x1="907.9" y1="828" x2="907.9" y2="803.8" stroke="#07131f" stroke-width="2.0" stroke-linecap="butt"/>
<path d="M907.9 803.8 A24.2 24.2 0 0 1 931.3 827" fill="none" stroke="#07131f" stroke-width="1.2" stroke-linejoin="miter"/>
<line x1="954.8" y1="828" x2="954.8" y2="803.8" stroke="#07131f" stroke-width="2.0" stroke-linecap="butt"/>
<path d="M954.8 803.8 A24.2 24.2 0 0 0 931.3 827" fill="none" stroke="#07131f" stroke-width="1.2" stroke-linejoin="miter"/>
<rect x="971.1" y="828.4" width="1.9" height="5.3" fill="#07131f" />
<line x1="972" y1="832.7" x2="1014.7" y2="832.7" stroke="#07131f" stroke-width="1.9" stroke-linecap="butt"/>
<path d="M1014.7 832.7 A42.7 42.7 0 0 1 972 876.6" fill="none" stroke="#07131f" stroke-width="1.3" stroke-linejoin="miter"/>
<rect x="753" y="826.3" width="155.4" height="2.5" fill="#07131f" />
<rect x="753" y="826.3" width="3" height="54.1" fill="#07131f" />
<rect x="804" y="878.1" width="80.3" height="3.3" fill="#07131f" />
<rect x="881.6" y="826.3" width="2.7" height="55.1" fill="#07131f" />
<rect x="906.5" y="803.3" width="2" height="25.5" fill="#07131f" />
<line x1="755.5" y1="828.7" x2="804.5" y2="879.5" stroke="#07131f" stroke-width="1.2" stroke-linecap="butt"/>
<line x1="787.3" y1="828.7" x2="804.5" y2="879.5" stroke="#07131f" stroke-width="1.2" stroke-linecap="butt"/>
<line x1="806.5" y1="828.7" x2="806.5" y2="878.5" stroke="#07131f" stroke-width="1.25" stroke-linecap="butt"/>
<line x1="816.4" y1="828.7" x2="816.4" y2="878.5" stroke="#07131f" stroke-width="1.25" stroke-linecap="butt"/>
<line x1="825.5" y1="828.7" x2="825.5" y2="878.5" stroke="#07131f" stroke-width="1.25" stroke-linecap="butt"/>
<line x1="834.9" y1="828.7" x2="834.9" y2="878.5" stroke="#07131f" stroke-width="1.25" stroke-linecap="butt"/>
<line x1="844.3" y1="828.7" x2="834.9" y2="879" stroke="#07131f" stroke-width="1.8" stroke-linecap="butt"/>
<path d="M719.4 879.8 V800.4 Q719.4 797.2 722.6 797.2 H815.7 Q818.9 797.2 818.9 800.4 V826.3" fill="none" stroke="#07131f" stroke-width="1.3" stroke-linejoin="miter"/>
<line x1="669.6" y1="880.2" x2="804.5" y2="880.2" stroke="#07131f" stroke-width="1.4" stroke-linecap="butt"/>
<line x1="696.1" y1="883.6" x2="696.1" y2="870.26" stroke="#07131f" stroke-width="1.2" stroke-linecap="butt"/>
<path d="M696.1 866.3 L699.4 872.9 L692.8 872.9 Z" fill="#07131f" stroke="#07131f" stroke-width="0.1" stroke-linejoin="miter"/>
<text x="687.53" y="899" font-size="12.9" font-weight="bold" textLength="17.55" lengthAdjust="spacingAndGlyphs" >Up</text>
<line x1="776.8" y1="886.6" x2="776.8" y2="873.16" stroke="#07131f" stroke-width="1.2" stroke-linecap="butt"/>
<path d="M776.8 869.2 L780.1 875.8 L773.5 875.8 Z" fill="#07131f" stroke="#07131f" stroke-width="0.1" stroke-linejoin="miter"/>
<text x="768.94" y="900.2" font-size="12.61" font-weight="bold" textLength="16.41" lengthAdjust="spacingAndGlyphs" >Dn</text>
<rect x="630.1" y="877.3" width="39.5" height="6.1" fill="#07131f" />
<rect x="630.1" y="877.3" width="5.8" height="107.5" fill="#07131f" />
<rect x="630.1" y="1046.2" width="5.8" height="197.2" fill="#07131f" />
<rect x="630.1" y="1285.4" width="5.8" height="115.8" fill="#07131f" />
<line x1="667.7" y1="883.4" x2="667.7" y2="979" stroke="#07131f" stroke-width="1.4" stroke-linecap="butt"/>
<rect x="635.8" y="946.4" width="32.7" height="2.4" fill="#07131f" />
<rect x="635.8" y="977.2" width="32.7" height="2.5" fill="#07131f" />
<rect x="646.9" y="913.5" width="14.8" height="27.9" rx="2.5" fill="none" stroke="#07131f" stroke-width="1.3"/>
<circle cx="654.3" cy="921.2" r="4.7" fill="none" stroke="#07131f" stroke-width="1.3"/>
<circle cx="654.3" cy="933.6" r="4.7" fill="none" stroke="#07131f" stroke-width="1.3"/>
<text x="638.08" y="968.8" font-size="16.09" font-weight="bold" textLength="28.14" lengthAdjust="spacingAndGlyphs" >WO</text>
<path d="M630.1 979.3 L567.4 979.3 L567.4 1209.2 L561.5 1209.2" fill="none" stroke="#07131f" stroke-width="1.9" stroke-linejoin="miter"/>
<line x1="634.5" y1="985" x2="601.2" y2="985" stroke="#07131f" stroke-width="1.9" stroke-linecap="butt"/>
<path d="M601.2 985 A33.3 33.3 0 0 0 632.8 1015.6" fill="none" stroke="#07131f" stroke-width="1.2" stroke-linejoin="miter"/>
<line x1="634.5" y1="1046.6" x2="601.2" y2="1046.6" stroke="#07131f" stroke-width="1.9" stroke-linecap="butt"/>
<path d="M601.2 1046.6 A33.3 33.3 0 0 1 632.8 1015.6" fill="none" stroke="#07131f" stroke-width="1.2" stroke-linejoin="miter"/>
<rect x="710.3" y="968.1" width="72.3" height="73.3" rx="0" fill="none" stroke="#07131f" stroke-width="1.4"/>
<rect x="738.2" y="976.7" width="17.7" height="19.5" rx="4.5" fill="none" stroke="#07131f" stroke-width="1.4"/>
<rect x="735.2" y="1016.7" width="28.4" height="22.2" rx="4" fill="none" stroke="#07131f" stroke-width="1.4"/>
<circle cx="740.6" cy="1027.8" r="3.4" fill="none" stroke="#07131f" stroke-width="1.3"/>
<circle cx="749.3" cy="1022.8" r="3.6" fill="none" stroke="#07131f" stroke-width="1.3"/>
<circle cx="757.9" cy="1022.8" r="3.6" fill="none" stroke="#07131f" stroke-width="1.3"/>
<circle cx="749.3" cy="1033.5" r="3.6" fill="none" stroke="#07131f" stroke-width="1.3"/>
<circle cx="757.9" cy="1033.5" r="3.6" fill="none" stroke="#07131f" stroke-width="1.3"/>
<line x1="826.5" y1="881" x2="826.5" y2="913" stroke="#07131f" stroke-width="1.25" stroke-linecap="butt"/>
<rect x="825.3" y="881" width="2.5" height="6" fill="#07131f" />
<rect x="825.3" y="904.2" width="2.5" height="9" fill="#07131f" />
<rect x="825.3" y="910.7" width="33.9" height="2.5" fill="#07131f" />
<text x="835.21" y="903.2" font-size="16.09" font-weight="bold" textLength="11.97" lengthAdjust="spacingAndGlyphs" >P</text>
<path d="M826.5 913.2 L826.5 958.2 L858.3 958.2" fill="none" stroke="#07131f" stroke-width="1.1" stroke-linejoin="miter"/>
<rect x="858.8" y="879.3" width="11.1" height="17.8" fill="#07131f" />
<line x1="869.9" y1="896.3" x2="943.2" y2="896.3" stroke="#07131f" stroke-width="1.2" stroke-linecap="butt"/>
<line x1="907.9" y1="902.3" x2="907.9" y2="888.76" stroke="#07131f" stroke-width="1.2" stroke-linecap="butt"/>
<path d="M907.9 884.8 L911.2 891.4 L904.6 891.4 Z" fill="#07131f" stroke="#07131f" stroke-width="0.1" stroke-linejoin="miter"/>
<text x="899.42" y="916.5" font-size="13.04" font-weight="bold" textLength="17.57" lengthAdjust="spacingAndGlyphs" >Up</text>
<rect x="858.3" y="881.4" width="2.9" height="172.4" fill="#07131f" />
<rect x="858.3" y="1095.8" width="2.9" height="156.2" fill="#07131f" />
<rect x="852.2" y="972.4" width="6.1" height="55.2" rx="0" fill="none" stroke="#07131f" stroke-width="1.15"/>
<text x="838.47" y="1005.9" font-size="16.09" font-weight="bold" textLength="11.65" lengthAdjust="spacingAndGlyphs" >H</text>
<text x="715.21" y="1082.9" font-size="19.86" font-weight="bold" textLength="76.99" lengthAdjust="spacingAndGlyphs" >Kitchen</text>
<line x1="635.8" y1="1104.8" x2="858.3" y2="1104.8" stroke="#07131f" stroke-width="1.2" stroke-linecap="butt"/>
<line x1="709.3" y1="1104.8" x2="709.3" y2="1136" stroke="#07131f" stroke-width="1.3" stroke-linecap="butt"/>
<line x1="787.5" y1="1104.8" x2="787.5" y2="1136" stroke="#07131f" stroke-width="1.3" stroke-linecap="butt"/>
<line x1="815.4" y1="1104.8" x2="815.4" y2="1136" stroke="#07131f" stroke-width="1.3" stroke-linecap="butt"/>
<line x1="635.8" y1="1136.8" x2="858.3" y2="1136.8" stroke="#07131f" stroke-width="1.25" stroke-linecap="butt"/>
<rect x="635.8" y="1135.5" width="9.8" height="2.5" fill="#07131f" />
<rect x="698.2" y="1135.5" width="13.8" height="2.5" fill="#07131f" />
<rect x="783" y="1135.5" width="75.3" height="2.5" fill="#07131f" />
<rect x="730.6" y="1110.4" width="43.7" height="21.2" rx="3" fill="none" stroke="#07131f" stroke-width="1.5"/>
<rect x="754.4" y="1113.7" width="16.1" height="14.7" rx="4" fill="none" stroke="#07131f" stroke-width="1.4"/>
<line x1="734.3" y1="1113.9" x2="751.7" y2="1113.9" stroke="#07131f" stroke-width="1.25" stroke-linecap="butt"/>
<line x1="734.3" y1="1117.6" x2="751.7" y2="1117.6" stroke="#07131f" stroke-width="1.25" stroke-linecap="butt"/>
<line x1="734.3" y1="1121.2" x2="751.7" y2="1121.2" stroke="#07131f" stroke-width="1.25" stroke-linecap="butt"/>
<line x1="734.3" y1="1124.7" x2="751.7" y2="1124.7" stroke="#07131f" stroke-width="1.25" stroke-linecap="butt"/>
<line x1="734.3" y1="1128.2" x2="751.7" y2="1128.2" stroke="#07131f" stroke-width="1.25" stroke-linecap="butt"/>
<text x="831.45" y="1125.6" font-size="16.09" font-weight="bold" textLength="10.4" lengthAdjust="spacingAndGlyphs" >F</text>
<rect x="709.8" y="1136.3" width="74" height="29.6" fill="#07131f" />
<rect x="722.9" y="1158.5" width="48.1" height="6.1" fill="#fff" />
<text x="737.43" y="1183" font-size="16.09" font-weight="bold" textLength="21.23" lengthAdjust="spacingAndGlyphs" >FP</text>
<rect x="852.2" y="1154" width="6.1" height="66.1" rx="0" fill="none" stroke="#07131f" stroke-width="1.15"/>
<text x="837.87" y="1194.7" font-size="16.09" font-weight="bold" textLength="12.75" lengthAdjust="spacingAndGlyphs" >H</text>
<text x="718.09" y="1268.6" font-size="20.14" font-weight="bold" textLength="61.01" lengthAdjust="spacingAndGlyphs" >Living</text>
<text x="706.49" y="1289" font-size="20.29" font-weight="normal" textLength="83.82" lengthAdjust="spacingAndGlyphs"  stroke="#07131f" stroke-width="0.3">4.3 x 4.9</text>
<line x1="631" y1="1242.9" x2="675.3" y2="1242.9" stroke="#07131f" stroke-width="1.9" stroke-linecap="butt"/>
<path d="M675.3 1242.9 A44.3 44.3 0 0 1 632 1285.6" fill="none" stroke="#07131f" stroke-width="1.3" stroke-linejoin="miter"/>
<line x1="860.5" y1="1251.1" x2="827" y2="1251.1" stroke="#07131f" stroke-width="1.9" stroke-linecap="butt"/>
<path d="M827 1251.1 A33.5 33.5 0 0 0 859.3 1283.8" fill="none" stroke="#07131f" stroke-width="1.2" stroke-linejoin="miter"/>
<line x1="860.5" y1="1316.5" x2="827" y2="1316.5" stroke="#07131f" stroke-width="1.9" stroke-linecap="butt"/>
<path d="M827 1316.5 A33.5 33.5 0 0 1 859.3 1283.8" fill="none" stroke="#07131f" stroke-width="1.2" stroke-linejoin="miter"/>
<rect x="858.3" y="1315.6" width="2.9" height="98.6" fill="#07131f" />
<rect x="629.9" y="1395.7" width="252.7" height="5.6" fill="#07131f" />
<rect x="678.6" y="1396.4" width="38.3" height="4.2" fill="#fff" />
<line x1="678.6" y1="1398.5" x2="716.9" y2="1398.5" stroke="#56606b" stroke-width="1.1" stroke-linecap="butt"/>
<line x1="678.6" y1="1396.1" x2="716.9" y2="1396.1" stroke="#07131f" stroke-width="0.8" stroke-linecap="butt"/>
<line x1="678.6" y1="1400.9" x2="716.9" y2="1400.9" stroke="#07131f" stroke-width="0.8" stroke-linecap="butt"/>
<line x1="679" y1="1395.7" x2="679" y2="1401.3" stroke="#07131f" stroke-width="0.8" stroke-linecap="butt"/>
<line x1="716.5" y1="1395.7" x2="716.5" y2="1401.3" stroke="#07131f" stroke-width="0.8" stroke-linecap="butt"/>
<rect x="716.9" y="1396.4" width="53.6" height="4.2" fill="#fff" />
<line x1="716.9" y1="1398.5" x2="770.5" y2="1398.5" stroke="#56606b" stroke-width="1.1" stroke-linecap="butt"/>
<line x1="716.9" y1="1396.1" x2="770.5" y2="1396.1" stroke="#07131f" stroke-width="0.8" stroke-linecap="butt"/>
<line x1="716.9" y1="1400.9" x2="770.5" y2="1400.9" stroke="#07131f" stroke-width="0.8" stroke-linecap="butt"/>
<line x1="717.3" y1="1395.7" x2="717.3" y2="1401.3" stroke="#07131f" stroke-width="0.8" stroke-linecap="butt"/>
<line x1="770.1" y1="1395.7" x2="770.1" y2="1401.3" stroke="#07131f" stroke-width="0.8" stroke-linecap="butt"/>
<rect x="770.5" y="1396.4" width="33.9" height="4.2" fill="#fff" />
<line x1="770.5" y1="1398.5" x2="804.4" y2="1398.5" stroke="#56606b" stroke-width="1.1" stroke-linecap="butt"/>
<line x1="770.5" y1="1396.1" x2="804.4" y2="1396.1" stroke="#07131f" stroke-width="0.8" stroke-linecap="butt"/>
<line x1="770.5" y1="1400.9" x2="804.4" y2="1400.9" stroke="#07131f" stroke-width="0.8" stroke-linecap="butt"/>
<line x1="770.9" y1="1395.7" x2="770.9" y2="1401.3" stroke="#07131f" stroke-width="0.8" stroke-linecap="butt"/>
<line x1="804" y1="1395.7" x2="804" y2="1401.3" stroke="#07131f" stroke-width="0.8" stroke-linecap="butt"/>
<rect x="924.1" y="1395.7" width="22.7" height="5.6" fill="#07131f" />
<line x1="516" y1="1109.3" x2="516" y2="1209.2" stroke="#07131f" stroke-width="1.9" stroke-linecap="butt"/>
<line x1="516" y1="1109.6" x2="567.4" y2="1109.6" stroke="#07131f" stroke-width="1.4" stroke-linecap="butt"/>
<line x1="516" y1="1120.3" x2="567.4" y2="1120.3" stroke="#07131f" stroke-width="1.4" stroke-linecap="butt"/>
<line x1="516" y1="1131.5" x2="567.4" y2="1131.5" stroke="#07131f" stroke-width="1.4" stroke-linecap="butt"/>
<line x1="516" y1="1142.2" x2="567.4" y2="1142.2" stroke="#07131f" stroke-width="1.4" stroke-linecap="butt"/>
<line x1="516" y1="1152.9" x2="567.4" y2="1152.9" stroke="#07131f" stroke-width="1.4" stroke-linecap="butt"/>
<line x1="516" y1="1163.9" x2="567.4" y2="1163.9" stroke="#07131f" stroke-width="1.4" stroke-linecap="butt"/>
<text x="531.72" y="1102.2" font-size="13.04" font-weight="bold" textLength="17.67" lengthAdjust="spacingAndGlyphs" >Up</text>
<line x1="540.4" y1="1105.3" x2="540.4" y2="1125.24" stroke="#07131f" stroke-width="1.2" stroke-linecap="butt"/>
<path d="M540.4 1129.2 L537.1 1122.6 L543.7 1122.6 Z" fill="#07131f" stroke="#07131f" stroke-width="0.1" stroke-linejoin="miter"/>
<path d="M519.5 1209.2 L504 1209.2 L504 1398.7 L566.8 1398.7" fill="none" stroke="#07131f" stroke-width="2.0" stroke-linejoin="miter"/>
<line x1="519.4" y1="1209.2" x2="519.4" y2="1251.4" stroke="#07131f" stroke-width="2.0" stroke-linecap="butt"/>
<path d="M519.4 1251.4 A42.2 42.2 0 0 0 561.7 1209.6" fill="none" stroke="#07131f" stroke-width="1.3" stroke-linejoin="miter"/>
<path d="M609 1398.7 L630 1398.7" fill="none" stroke="#07131f" stroke-width="2.0" stroke-linejoin="miter"/>
<line x1="609" y1="1398.7" x2="609" y2="1356.3" stroke="#07131f" stroke-width="2.0" stroke-linecap="butt"/>
<path d="M609 1356.3 A42.4 42.4 0 0 0 566.8 1398.5" fill="none" stroke="#07131f" stroke-width="1.3" stroke-linejoin="miter"/>
<text x="532.78" y="1302.8" font-size="20.29" font-weight="bold" textLength="58.13" lengthAdjust="spacingAndGlyphs" >Porch</text>
<path d="M553.3 1398.7 L553.3 1484.6 L858.7 1484.6" fill="none" stroke="#07131f" stroke-width="1.3" stroke-linejoin="miter"/>
<text x="505.29" y="1511.4" font-size="20.14" font-weight="bold" textLength="168.01" lengthAdjust="spacingAndGlyphs" >GROUND FLOOR</text>
<rect x="861.2" y="1341.5" width="5.4" height="35.5" rx="0" fill="none" stroke="#07131f" stroke-width="1.15"/>
<text x="866.87" y="1364.6" font-size="16.09" font-weight="bold" textLength="12.55" lengthAdjust="spacingAndGlyphs" >H</text>
<text x="875.48" y="1327" font-size="20.29" font-weight="bold" textLength="55.43" lengthAdjust="spacingAndGlyphs" >Entry</text>
<line x1="882.1" y1="1398" x2="882.1" y2="1356.3" stroke="#07131f" stroke-width="2.3" stroke-linecap="butt"/>
<path d="M882.1 1356.3 A41.7 41.7 0 0 1 924.3 1396.5" fill="none" stroke="#07131f" stroke-width="1.3" stroke-linejoin="miter"/>
<line x1="860.5" y1="1413.3" x2="817.2" y2="1413.3" stroke="#07131f" stroke-width="1.9" stroke-linecap="butt"/>
<path d="M817.2 1413.3 A43.3 43.3 0 0 0 859.9 1456" fill="none" stroke="#07131f" stroke-width="1.3" stroke-linejoin="miter"/>
<rect x="858.7" y="1455.9" width="2.5" height="14.1" fill="#07131f" />
<rect x="858.7" y="1469" width="20.5" height="15.9" fill="#07131f" />
<line x1="879.2" y1="1484" x2="885.6" y2="1484" stroke="#07131f" stroke-width="1.9" stroke-linecap="butt"/>
<line x1="927.8" y1="1484.6" x2="927.8" y2="1441.9" stroke="#07131f" stroke-width="2.3" stroke-linecap="butt"/>
<path d="M927.8 1441.9 A42.7 42.7 0 0 0 885.4 1484" fill="none" stroke="#07131f" stroke-width="1.3" stroke-linejoin="miter"/>
<line x1="926.8" y1="1484" x2="934.5" y2="1484" stroke="#07131f" stroke-width="1.9" stroke-linecap="butt"/>
<rect x="934" y="1467.3" width="8" height="17.6" fill="#07131f" />
<text x="874.98" y="1433.1" font-size="20.29" font-weight="bold" textLength="58.23" lengthAdjust="spacingAndGlyphs" >Porch</text>
<path d="M879.7 1485 L879.7 1506 L941.4 1506" fill="none" stroke="#07131f" stroke-width="1.1" stroke-linejoin="miter"/>
<line x1="879.7" y1="1496.1" x2="941.4" y2="1496.1" stroke="#07131f" stroke-width="1.3" stroke-linecap="butt"/>
<line x1="910.5" y1="1517.2" x2="910.5" y2="1503.56" stroke="#07131f" stroke-width="1.2" stroke-linecap="butt"/>
<path d="M910.5 1499.6 L913.8 1506.2 L907.2 1506.2 Z" fill="#07131f" stroke="#07131f" stroke-width="0.1" stroke-linejoin="miter"/>
<text x="902.03" y="1529.6" font-size="12.9" font-weight="bold" textLength="17.25" lengthAdjust="spacingAndGlyphs" >Up</text>
<rect x="941.2" y="1395.7" width="5.8" height="113.3" fill="#07131f" />
<rect x="942.6" y="1228.3" width="3" height="92" fill="#07131f" />
<rect x="942.6" y="1362.2" width="3" height="33.8" fill="#07131f" />
<line x1="943.6" y1="1319.1" x2="986.5" y2="1319.1" stroke="#07131f" stroke-width="2.0" stroke-linecap="butt"/>
<path d="M986.5 1319.1 A42.9 42.9 0 0 1 944 1362.2" fill="none" stroke="#07131f" stroke-width="1.3" stroke-linejoin="miter"/>
<path d="M941.2 1503 L1003.3 1502.6 L1003.3 1508.8 L941.2 1509 Z" fill="#07131f" stroke="#07131f" stroke-width="0.1" stroke-linejoin="miter"/>
<path d="M1111.6 1501.4 L1182.6 1501 L1182.6 1507 L1111.6 1507.4 Z" fill="#07131f" stroke="#07131f" stroke-width="0.1" stroke-linejoin="miter"/>
<rect x="997.4" y="1502.8" width="5.9" height="47.7" fill="#07131f" />
<rect x="1111.6" y="1501.4" width="5.7" height="49.1" fill="#07131f" />
<rect x="997.4" y="1544.5" width="119.9" height="6" fill="#07131f" />
<rect x="998.1" y="1512.2" width="4.5" height="29.8" fill="#fff" />
<line x1="1000.35" y1="1512.2" x2="1000.35" y2="1542" stroke="#56606b" stroke-width="1.1" stroke-linecap="butt"/>
<line x1="997.8" y1="1512.2" x2="997.8" y2="1542" stroke="#07131f" stroke-width="0.8" stroke-linecap="butt"/>
<line x1="1002.9" y1="1512.2" x2="1002.9" y2="1542" stroke="#07131f" stroke-width="0.8" stroke-linecap="butt"/>
<line x1="997.4" y1="1512.6" x2="1003.3" y2="1512.6" stroke="#07131f" stroke-width="0.8" stroke-linecap="butt"/>
<line x1="997.4" y1="1541.6" x2="1003.3" y2="1541.6" stroke="#07131f" stroke-width="0.8" stroke-linecap="butt"/>
<rect x="1112.3" y="1512.2" width="4.3" height="29.8" fill="#fff" />
<line x1="1114.45" y1="1512.2" x2="1114.45" y2="1542" stroke="#56606b" stroke-width="1.1" stroke-linecap="butt"/>
<line x1="1112" y1="1512.2" x2="1112" y2="1542" stroke="#07131f" stroke-width="0.8" stroke-linecap="butt"/>
<line x1="1116.9" y1="1512.2" x2="1116.9" y2="1542" stroke="#07131f" stroke-width="0.8" stroke-linecap="butt"/>
<line x1="1111.6" y1="1512.6" x2="1117.3" y2="1512.6" stroke="#07131f" stroke-width="0.8" stroke-linecap="butt"/>
<line x1="1111.6" y1="1541.6" x2="1117.3" y2="1541.6" stroke="#07131f" stroke-width="0.8" stroke-linecap="butt"/>
<rect x="1006.6" y="1545.2" width="24.9" height="4.6" fill="#fff" />
<line x1="1006.6" y1="1547.5" x2="1031.5" y2="1547.5" stroke="#56606b" stroke-width="1.1" stroke-linecap="butt"/>
<line x1="1006.6" y1="1544.9" x2="1031.5" y2="1544.9" stroke="#07131f" stroke-width="0.8" stroke-linecap="butt"/>
<line x1="1006.6" y1="1550.1" x2="1031.5" y2="1550.1" stroke="#07131f" stroke-width="0.8" stroke-linecap="butt"/>
<line x1="1007" y1="1544.5" x2="1007" y2="1550.5" stroke="#07131f" stroke-width="0.8" stroke-linecap="butt"/>
<line x1="1031.1" y1="1544.5" x2="1031.1" y2="1550.5" stroke="#07131f" stroke-width="0.8" stroke-linecap="butt"/>
<rect x="1031.5" y="1545.2" width="51.1" height="4.6" fill="#fff" />
<line x1="1031.5" y1="1547.5" x2="1082.6" y2="1547.5" stroke="#56606b" stroke-width="1.1" stroke-linecap="butt"/>
<line x1="1031.5" y1="1544.9" x2="1082.6" y2="1544.9" stroke="#07131f" stroke-width="0.8" stroke-linecap="butt"/>
<line x1="1031.5" y1="1550.1" x2="1082.6" y2="1550.1" stroke="#07131f" stroke-width="0.8" stroke-linecap="butt"/>
<line x1="1031.9" y1="1544.5" x2="1031.9" y2="1550.5" stroke="#07131f" stroke-width="0.8" stroke-linecap="butt"/>
<line x1="1082.2" y1="1544.5" x2="1082.2" y2="1550.5" stroke="#07131f" stroke-width="0.8" stroke-linecap="butt"/>
<rect x="1082.6" y="1545.2" width="21.7" height="4.6" fill="#fff" />
<line x1="1082.6" y1="1547.5" x2="1104.3" y2="1547.5" stroke="#56606b" stroke-width="1.1" stroke-linecap="butt"/>
<line x1="1082.6" y1="1544.9" x2="1104.3" y2="1544.9" stroke="#07131f" stroke-width="0.8" stroke-linecap="butt"/>
<line x1="1082.6" y1="1550.1" x2="1104.3" y2="1550.1" stroke="#07131f" stroke-width="0.8" stroke-linecap="butt"/>
<line x1="1083" y1="1544.5" x2="1083" y2="1550.5" stroke="#07131f" stroke-width="0.8" stroke-linecap="butt"/>
<line x1="1103.9" y1="1544.5" x2="1103.9" y2="1550.5" stroke="#07131f" stroke-width="0.8" stroke-linecap="butt"/>
<rect x="1167.1" y="1310.2" width="10" height="46.3" rx="0" fill="none" stroke="#07131f" stroke-width="1.15"/>
<text x="1153.97" y="1337.7" font-size="16.09" font-weight="bold" textLength="12.45" lengthAdjust="spacingAndGlyphs" >H</text>
<text x="1016.9" y="1390.5" font-size="20" font-weight="bold" textLength="91" lengthAdjust="spacingAndGlyphs" >Bedroom</text>
<text x="1020.19" y="1410.6" font-size="20.29" font-weight="normal" textLength="83.22" lengthAdjust="spacingAndGlyphs"  stroke="#07131f" stroke-width="0.3">4.3 x 4.6</text>
<rect x="942.8" y="879.1" width="28.7" height="38.2" fill="#07131f" />
<line x1="971.5" y1="880.4" x2="1037" y2="880.4" stroke="#07131f" stroke-width="1.3" stroke-linecap="butt"/>
<rect x="971.5" y="879.2" width="7.5" height="2.5" fill="#07131f" />
<rect x="971" y="875.6" width="1.8" height="3.6" fill="#07131f" />
<rect x="971.5" y="914.7" width="71.5" height="2.6" fill="#07131f" />
<text x="1000.6" y="904.8" font-size="16.09" font-weight="bold" textLength="11.61" lengthAdjust="spacingAndGlyphs" >C</text>
<rect x="1041.3" y="878.8" width="2.6" height="212.2" fill="#07131f" />
<rect x="1036.9" y="879.4" width="71.6" height="2.7" fill="#07131f" />
<rect x="1106" y="879.4" width="2.6" height="43.3" fill="#07131f" />
<path d="M1107.3 922.7 A42.5 42.5 0 0 0 1150.2 881.2" fill="none" stroke="#07131f" stroke-width="1.3" stroke-linejoin="miter"/>
<rect x="1149.7" y="879.4" width="27.4" height="2.7" fill="#07131f" />
<rect x="943.2" y="878.6" width="28.8" height="2.6" fill="#07131f" />
<line x1="1129.5" y1="874" x2="1129.5" y2="888.04" stroke="#07131f" stroke-width="1.2" stroke-linecap="butt"/>
<path d="M1129.5 892 L1126.2 885.4 L1132.8 885.4 Z" fill="#07131f" stroke="#07131f" stroke-width="0.1" stroke-linejoin="miter"/>
<text x="1121.04" y="868.1" font-size="12.61" font-weight="bold" textLength="17.01" lengthAdjust="spacingAndGlyphs" >Dn</text>
<rect x="1168.9" y="837.9" width="8.2" height="33.3" rx="0" fill="none" stroke="#07131f" stroke-width="1.15"/>
<text x="1155.67" y="860" font-size="16.09" font-weight="bold" textLength="12.35" lengthAdjust="spacingAndGlyphs" >H</text>
<path d="M1154.1 881.2 L1154.1 928.8 L1177.1 928.8" fill="none" stroke="#07131f" stroke-width="1.1" stroke-linejoin="miter"/>
<rect x="1159.6" y="895.5" width="12.5" height="21.7" rx="0" fill="none" stroke="#07131f" stroke-width="1.15"/>
<rect x="1043.8" y="890.7" width="8.1" height="26.5" rx="0" fill="none" stroke="#07131f" stroke-width="1.2"/>
<ellipse cx="1067.3" cy="903.8" rx="14.4" ry="11.1" fill="none" stroke="#07131f" stroke-width="1.3"/>
<ellipse cx="1067.3" cy="903.8" rx="10.3" ry="6.5" fill="none" stroke="#07131f" stroke-width="1.3"/>
<rect x="1043.8" y="925.6" width="43.4" height="39" rx="0" fill="none" stroke="#07131f" stroke-width="1.3"/>
<line x1="1043.8" y1="925.6" x2="1087.2" y2="964.6" stroke="#07131f" stroke-width="1.2" stroke-linecap="butt"/>
<line x1="1043.8" y1="964.6" x2="1087.2" y2="925.6" stroke="#07131f" stroke-width="1.2" stroke-linecap="butt"/>
<circle cx="1065.3" cy="945.6" r="4" fill="#fff" stroke="#07131f" stroke-width="1.2"/>
<line x1="1061.3" y1="945.6" x2="1069.3" y2="945.6" stroke="#07131f" stroke-width="0.8" stroke-linecap="butt"/>
<line x1="1065.3" y1="941.6" x2="1065.3" y2="949.6" stroke="#07131f" stroke-width="0.8" stroke-linecap="butt"/>
<rect x="1043.8" y="964.6" width="82.7" height="2.5" fill="#07131f" />
<text x="1097.62" y="943" font-size="19.71" font-weight="bold" textLength="37.47" lengthAdjust="spacingAndGlyphs" >Ens</text>
<line x1="1080.1" y1="967" x2="1080.1" y2="1057" stroke="#07131f" stroke-width="1.25" stroke-linecap="butt"/>
<rect x="1078.9" y="967" width="2.5" height="16.1" fill="#07131f" />
<rect x="1078.9" y="1033.7" width="2.5" height="23.4" fill="#07131f" />
<line x1="1078.9" y1="1055.9" x2="1177.1" y2="1055.9" stroke="#07131f" stroke-width="1.25" stroke-linecap="butt"/>
<rect x="1078.9" y="1054.7" width="18.5" height="2.5" fill="#07131f" />
<rect x="1161.5" y="1054.7" width="15.6" height="2.5" fill="#07131f" />
<text x="1104.18" y="1019.6" font-size="16.09" font-weight="bold" textLength="32.14" lengthAdjust="spacingAndGlyphs" >WIR</text>
<text x="1068.33" y="1031.5" font-size="16.09" font-weight="bold" textLength="27.43" lengthAdjust="spacingAndGlyphs" transform="rotate(-90 1069.3 1031.5)" >BIR</text>
<text x="1098.63" y="1079.3" font-size="16.09" font-weight="bold" textLength="28.03" lengthAdjust="spacingAndGlyphs" >BIR</text>
<rect x="1168.4" y="978.9" width="8.7" height="51.1" rx="0" fill="none" stroke="#07131f" stroke-width="1.15"/>
<text x="1153.97" y="1011.4" font-size="16.09" font-weight="bold" textLength="12.25" lengthAdjust="spacingAndGlyphs" >H</text>
<rect x="1041.3" y="1088" width="135.8" height="3.2" fill="#07131f" />
<rect x="942.8" y="917" width="2.9" height="77.5" fill="#07131f" />
<rect x="942.8" y="1041.5" width="2.9" height="145.5" fill="#07131f" />
<rect x="945.6" y="918.2" width="48" height="48" rx="0" fill="none" stroke="#07131f" stroke-width="1.3"/>
<line x1="945.6" y1="918.2" x2="993.6" y2="966.2" stroke="#07131f" stroke-width="1.2" stroke-linecap="butt"/>
<line x1="945.6" y1="966.2" x2="993.6" y2="918.2" stroke="#07131f" stroke-width="1.2" stroke-linecap="butt"/>
<circle cx="969" cy="941.9" r="4.1" fill="#fff" stroke="#07131f" stroke-width="1.2"/>
<line x1="964.9" y1="941.9" x2="973.1" y2="941.9" stroke="#07131f" stroke-width="0.8" stroke-linecap="butt"/>
<line x1="969" y1="937.8" x2="969" y2="946" stroke="#07131f" stroke-width="0.8" stroke-linecap="butt"/>
<line x1="981.4" y1="943.6" x2="989.7" y2="943.6" stroke="#07131f" stroke-width="1.3" stroke-linecap="butt"/>
<line x1="997.7" y1="943.6" x2="1001.8" y2="943.6" stroke="#07131f" stroke-width="1.3" stroke-linecap="butt"/>
<line x1="969.2" y1="976.3" x2="973.5" y2="976.3" stroke="#07131f" stroke-width="1.3" stroke-linecap="butt"/>
<line x1="981.4" y1="976.3" x2="989.7" y2="976.3" stroke="#07131f" stroke-width="1.3" stroke-linecap="butt"/>
<line x1="997.7" y1="976.3" x2="1001.8" y2="976.3" stroke="#07131f" stroke-width="1.3" stroke-linecap="butt"/>
<line x1="1001.8" y1="943.6" x2="1001.8" y2="947.7" stroke="#07131f" stroke-width="1.3" stroke-linecap="butt"/>
<line x1="1001.8" y1="955.5" x2="1001.8" y2="963.4" stroke="#07131f" stroke-width="1.3" stroke-linecap="butt"/>
<line x1="1001.8" y1="972" x2="1001.8" y2="976.3" stroke="#07131f" stroke-width="1.3" stroke-linecap="butt"/>
<line x1="969.2" y1="955.5" x2="969.2" y2="963.4" stroke="#07131f" stroke-width="1.3" stroke-linecap="butt"/>
<line x1="969.2" y1="972" x2="969.2" y2="976.3" stroke="#07131f" stroke-width="1.3" stroke-linecap="butt"/>
<rect x="1001.7" y="917.7" width="27.1" height="7.9" rx="0" fill="none" stroke="#07131f" stroke-width="1.15"/>
<ellipse cx="1015.2" cy="941" rx="11" ry="14.4" fill="none" stroke="#07131f" stroke-width="1.3"/>
<ellipse cx="1015.2" cy="941" rx="7.5" ry="10.4" fill="none" stroke="#07131f" stroke-width="1.3"/>
<rect x="1037.4" y="957.9" width="4.2" height="28.2" rx="0" fill="none" stroke="#07131f" stroke-width="1.15"/>
<text x="1023.67" y="976.1" font-size="16.09" font-weight="bold" textLength="12.45" lengthAdjust="spacingAndGlyphs" >H</text>
<path d="M1041.4 990 L1014.7 990 L1014.7 1036.9 L982.7 1036.9 L971.3 1044.5 L945.6 1044.5" fill="none" stroke="#07131f" stroke-width="1.1" stroke-linejoin="miter"/>
<ellipse cx="1025.8" cy="1010.2" rx="7.4" ry="10.9" fill="none" stroke="#07131f" stroke-width="1.0"/>
<line x1="943.2" y1="994" x2="967.2" y2="994" stroke="#07131f" stroke-width="2.0" stroke-linecap="butt"/>
<path d="M967.2 994 A24 24 0 0 1 945.8 1017.4" fill="none" stroke="#07131f" stroke-width="1.2" stroke-linejoin="miter"/>
<line x1="943.2" y1="1041.2" x2="967.4" y2="1041.2" stroke="#07131f" stroke-width="2.0" stroke-linecap="butt"/>
<path d="M967.4 1041.2 A24.2 24.2 0 0 0 945.8 1017.4" fill="none" stroke="#07131f" stroke-width="1.2" stroke-linejoin="miter"/>
<text x="968.3" y="1010.6" font-size="20" font-weight="bold" textLength="46.2" lengthAdjust="spacingAndGlyphs" >Bath</text>
<rect x="942.8" y="1060.3" width="100.2" height="3.1" fill="#07131f" />
<line x1="943.6" y1="1186.1" x2="986.4" y2="1186.1" stroke="#07131f" stroke-width="2.0" stroke-linecap="butt"/>
<path d="M986.4 1186.1 A42.8 42.8 0 0 1 944.6 1228.4" fill="none" stroke="#07131f" stroke-width="1.3" stroke-linejoin="miter"/>
<line x1="1145" y1="1090.8" x2="1145" y2="1237.2" stroke="#07131f" stroke-width="1.25" stroke-linecap="butt"/>
<text x="1164.97" y="1188.3" font-size="18.55" font-weight="bold" textLength="40.86" lengthAdjust="spacingAndGlyphs" transform="rotate(-90 1165.9 1188.3)" >Desk</text>
<text x="1002.1" y="1149.2" font-size="20" font-weight="bold" textLength="91.1" lengthAdjust="spacingAndGlyphs" >Bedroom</text>
<text x="1006.49" y="1169.6" font-size="20.29" font-weight="normal" textLength="82.32" lengthAdjust="spacingAndGlyphs"  stroke="#07131f" stroke-width="0.3">4.3 x 3.6</text>
<text x="1053.97" y="1220.9" font-size="16.09" font-weight="bold" textLength="12.85" lengthAdjust="spacingAndGlyphs" >H</text>
<rect x="1032.7" y="1222.8" width="54.1" height="7.4" rx="0" fill="none" stroke="#07131f" stroke-width="1.15"/>
<line x1="945.6" y1="1237.2" x2="1177.1" y2="1237.2" stroke="#07131f" stroke-width="1.3" stroke-linecap="butt"/>
<line x1="945.6" y1="1281.3" x2="1177.1" y2="1281.3" stroke="#07131f" stroke-width="1.3" stroke-linecap="butt"/>
<rect x="942.8" y="1254.8" width="234.3" height="2.7" fill="#07131f" />
<rect x="1020.4" y="1230.2" width="78.7" height="56.1" fill="#07131f" />
<rect x="1034.5" y="1278.4" width="50.5" height="6.6" fill="#fff" />
<text x="980.8" y="1252.3" font-size="16.09" font-weight="bold" textLength="11.31" lengthAdjust="spacingAndGlyphs" >S</text>
<text x="980.8" y="1275.8" font-size="16.09" font-weight="bold" textLength="11.31" lengthAdjust="spacingAndGlyphs" >S</text>
<text x="1130.6" y="1252.3" font-size="16.09" font-weight="bold" textLength="11.31" lengthAdjust="spacingAndGlyphs" >S</text>
<text x="1130.6" y="1275.8" font-size="16.09" font-weight="bold" textLength="11.31" lengthAdjust="spacingAndGlyphs" >S</text>
<text x="1047.23" y="1305.4" font-size="16.09" font-weight="bold" textLength="21.93" lengthAdjust="spacingAndGlyphs" >FP</text>
</svg>
</body></html>
